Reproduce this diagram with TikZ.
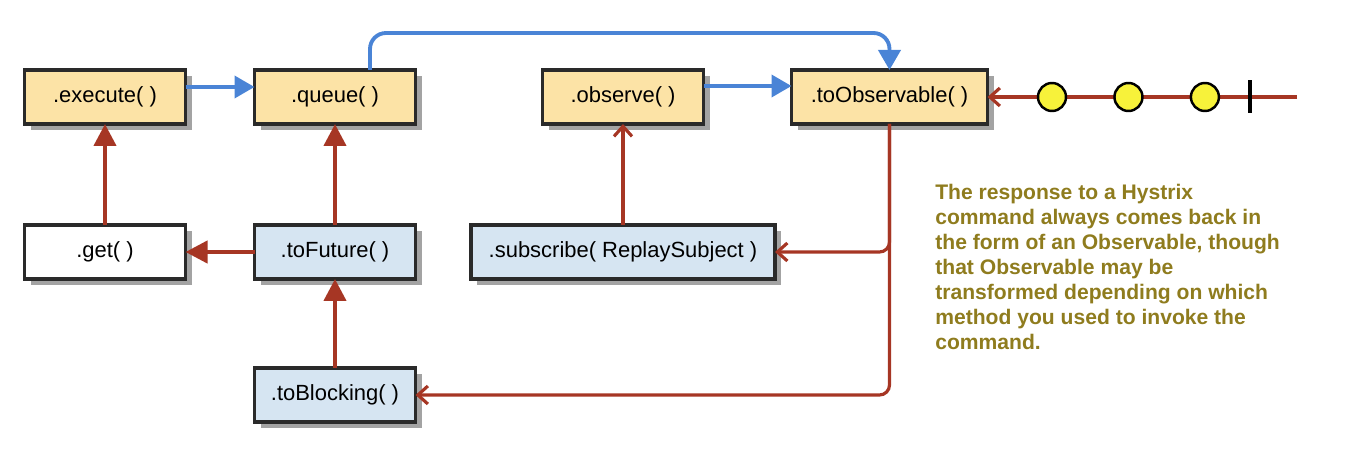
\documentclass[tikz,border=0pt]{standalone}
\usepackage{fontspec}
\setmainfont{Liberation Sans}
\usetikzlibrary{arrows.meta, positioning, shadows}
\definecolor{callfill}{HTML}{FCE3A6}
\definecolor{convfill}{HTML}{D6E5F2}
\definecolor{edge}{HTML}{2A2A2A}
\definecolor{shade}{HTML}{A3A3A3}
\definecolor{sync}{HTML}{4A84D6}
\definecolor{wrap}{HTML}{A63624}
\definecolor{marble}{HTML}{F7F23A}
\definecolor{remark}{HTML}{8F7C1E}
\tikzset{
  call/.style   = {draw=edge, line width=1.8pt, fill=#1, minimum width=3.22cm,
                   minimum height=1.08cm, inner sep=0pt, outer sep=0pt,
                   font=\fontsize{12.5}{15}\selectfont,
                   drop shadow={shadow xshift=0.12cm, shadow yshift=-0.12cm,
                                fill=shade, opacity=1}},
  yel/.style    = {call=callfill},
  pale/.style   = {call=convfill},
  plain/.style  = {call=white},
  chain/.style  = {-{Triangle[length=4mm,width=4.4mm]}, draw=sync, line width=2.2pt},
  lift/.style   = {-{Triangle[length=4.4mm,width=4.4mm]}, draw=wrap, line width=2.4pt},
  hand/.style   = {-{Straight Barb[length=2mm,width=3.6mm]}, draw=wrap, line width=1.8pt},
  bead/.style   = {circle, draw=black, line width=1.4pt, fill=marble,
                   minimum size=0.56cm, inner sep=0pt},
  note/.style   = {text=remark, font=\bfseries\fontsize{12}{14.2}\selectfont,
                   align=left, inner sep=0pt, anchor=north west},
}

\begin{document}
\begin{tikzpicture}
\useasboundingbox (0,0) rectangle (26.92,-9.04);

% entry points on top, conversions below
\node[yel] (exec) at (2.10,-1.94) {.execute( )};
\node[yel, right=1.38cm of exec] (queue) {.queue( )};
\node[yel, right=2.54cm of queue] (observe) {.observe( )};
\node[yel, minimum width=3.92cm, right=1.76cm of observe] (toobs) {.toObservable( )};
\node[plain, below=2.02cm of exec] (get) {.get( )};
\node[pale, below=2.02cm of queue] (future) {.toFuture( )};
\node[pale, minimum width=6.08cm, below=2.02cm of observe] (subscribe) {.subscribe( ReplaySubject )};
\node[pale, below=1.78cm of future] (blocking) {.toBlocking( )};

\draw[chain] ([yshift=0.2cm]exec.east) -- ([yshift=0.2cm]queue.west);
\draw[chain] ([yshift=0.22cm]observe.east) -- ([yshift=0.22cm]toobs.west);
\draw[chain, rounded corners=0.32cm] ([xshift=0.7cm]queue.north) -- ++(0,0.74) -| (toobs.north);

\draw[lift] (get) -- (exec);
\draw[lift] (future) -- (queue);
\draw[lift] (future) -- (get);
\draw[lift] (blocking) -- (future);
\draw[hand] (subscribe) -- (observe);
\draw[hand, rounded corners=0.2cm] (toobs.south) |- (subscribe.east);
\draw[hand, rounded corners=0.2cm] (toobs.south) |- (blocking.east);

% the emitted stream
\coordinate (src) at (25.94,-1.94);
\draw[hand] (src) -- (toobs.east);
\node[bead] (m1) at (21.04,-1.94) {};
\node[bead, right=0.92cm of m1] (m2) {};
\node[bead, right=0.92cm of m2] (m3) {};
\node[fill=black, minimum width=0.09cm, minimum height=0.66cm, inner sep=0pt] (done) at (25.0,-1.94) {};

\node[note] (text) at (18.70,-3.68)
  {The response to a Hystrix\\command always comes back in\\the form of an Observable, though\\that Observable may be\\transformed depending on which\\method you used to invoke the\\command.};

\end{tikzpicture}
\end{document}
